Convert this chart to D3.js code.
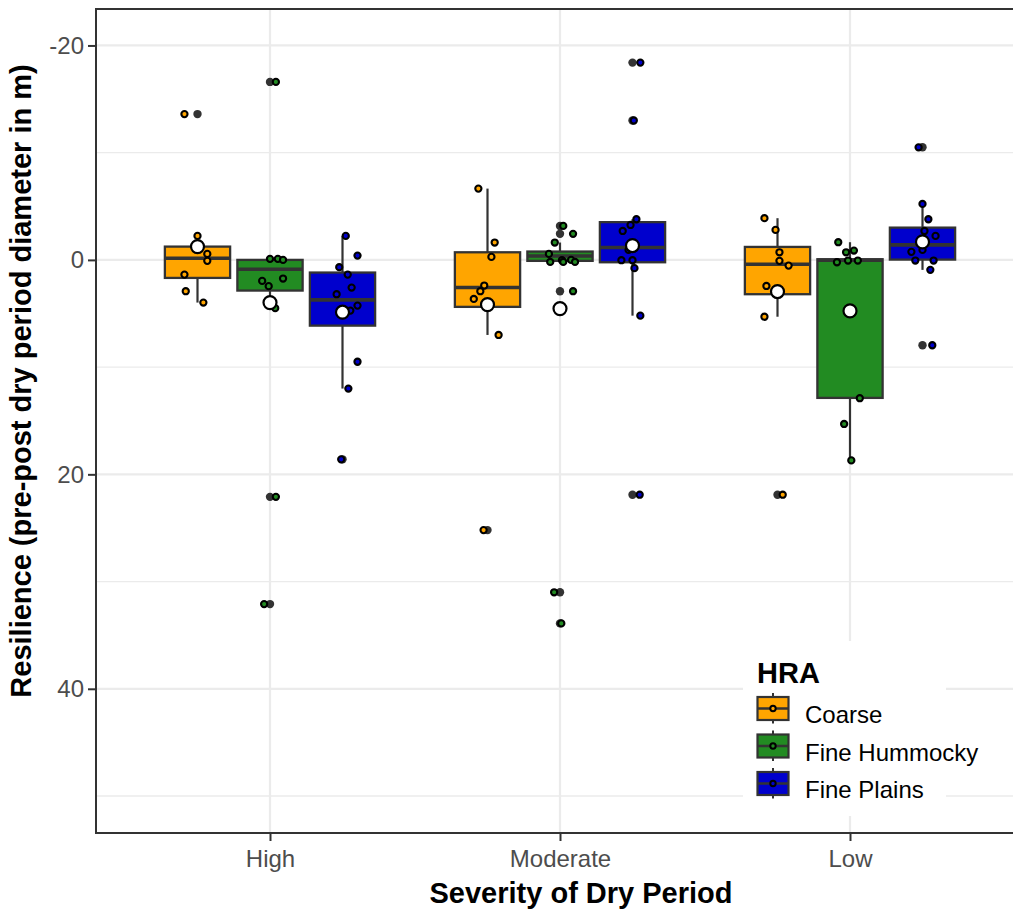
<!DOCTYPE html>
<html>
<head>
<meta charset="utf-8">
<script src="https://cdn.jsdelivr.net/npm/d3@7"></script>
<style>
  body { margin: 0; background: #ffffff; }
  svg { display: block; font-family: "Liberation Sans", Arial, sans-serif; }
</style>
</head>
<body>
<script>
// Severity classes on the x axis and hydrologic response areas (HRA) as dodged groups
const categories = ["High", "Moderate", "Low"];
const hraGroups = ["Coarse", "Fine Hummocky", "Fine Plains"];
const hraColors = ["#FFA500", "#228B22", "#0000CD"];
const yTicks = [-20, 0, 20, 40];
const yMinorTicks = [-10, 10, 30, 50];

// Observed resilience values, one inner array per severity class (High, Moderate, Low)
const coarseValues = [
  [-13.6, -2.24, -0.56, 0.09, 1.37, 2.92, 3.98],
  [-6.65, -1.62, -0.28, 2.39, 2.92, 3.64, 7.0, 25.2],
  [-3.89, -2.8, -0.71, 0.09, 0.53, 2.43, 5.3, 21.9]
];
const hummockyValues = [
  [-16.6, -0.1, -0.1, 0.0, 1.74, 1.96, 2.45, 4.5, 22.1, 32.1],
  [-3.17, -2.43, -1.62, -0.56, 0.19, 0.03, 0.19, 0.0, 0.19, 2.92, 31.0, 33.9],
  [-1.65, -0.71, -0.87, 0.22, 0.06, 0.06, 12.9, 15.3, 18.7]
];
const plainsValues = [
  [-2.24, -0.4, 0.68, 1.37, 2.58, 3.2, 4.26, 4.73, 9.5, 12.0, 18.6],
  [-18.4, -13.0, -3.79, -3.26, -2.7, -0.93, 0.03, 0.03, 0.77, 5.2, 21.9],
  [-10.5, -5.22, -3.79, -2.7, -2.24, -0.93, -0.75, 0.06, 0.06, 0.93, 7.96]
];

// Horizontal jitter of each observation, as a fraction of the box width
const coarseJitter = [
  [-0.2, 0, 0.15, 0.15, -0.2, -0.18, 0.09],
  [-0.14, 0.11, 0.06, -0.05, -0.11, -0.21, 0.17, -0.06],
  [-0.2, -0.03, 0.03, 0.03, 0.17, -0.17, -0.2, 0.08]
];
const hummockyJitter = [
  [0.09, 0, 0.12, 0.2, 0.2, -0.12, -0.02, 0.08, 0.09, -0.09],
  [0.05, 0.2, -0.08, -0.17, -0.15, 0.03, 0.05, 0.17, 0.23, 0.2, -0.09, 0.02],
  [-0.18, -0.06, 0.06, -0.2, -0.03, 0.12, 0.15, -0.09, 0.02]
];
const plainsJitter = [
  [0.05, 0.23, -0.05, 0.08, 0.14, -0.09, 0.23, 0.12, 0.23, 0.09, -0.02],
  [0.12, 0.02, 0.06, -0.03, -0.15, -0.06, -0.17, 0, 0.03, 0.12, 0.11],
  [-0.06, 0, 0.09, 0.03, 0.2, 0, -0.17, -0.11, 0.17, 0.12, 0.15]
];

// Box summaries per severity class: [lower whisker, Q1, median, Q3, upper whisker, mean]
const coarseBoxes = [
  [-2.24, -1.24, -0.15, 1.68, 3.98, -1.24],
  [-6.65, -0.71, 2.58, 4.38, 7.0, 4.17],
  [-3.89, -1.21, 0.4, 3.2, 5.3, 2.95]
];
const hummockyBoxes = [
  [-0.1, 0.0, 0.87, 2.86, 4.5, 3.98],
  [-1.62, -0.78, -0.37, 0.09, 0.19, 4.54],
  [-1.65, -0.06, 0.03, 12.87, 18.7, 4.76]
];
const plainsBoxes = [
  [-2.24, 1.18, 3.73, 6.13, 12.0, 4.88],
  [-3.79, -3.52, -1.15, 0.22, 5.2, -1.34],
  [-5.22, -3.01, -1.4, -0.03, 0.93, -1.68]
];

const groupValues = [coarseValues, hummockyValues, plainsValues];
const groupJitter = [coarseJitter, hummockyJitter, plainsJitter];
const groupBoxes = [coarseBoxes, hummockyBoxes, plainsBoxes];

const W = 1013, H = 914;
const panel = { left: 96, top: 9, right: 1024, bottom: 833 };
const ink = "#333333";

const svg = d3.select("body").append("svg").attr("width", W).attr("height", H);

const y = d3.scaleLinear().domain([-23.4, 53.45]).range([panel.top, panel.bottom]);
const x = d3.scalePoint().domain(categories).range([panel.left, panel.right]).padding(0.6);
const dodge = d3.scaleBand().domain(hraGroups).range([-0.375 * x.step(), 0.375 * x.step()]);
const boxW = dodge.bandwidth() * 0.9;
const color = d3.scaleOrdinal().domain(hraGroups).range(hraColors);

// Panel background and grid
svg.append("rect").attr("x", panel.left).attr("y", panel.top)
  .attr("width", panel.right - panel.left).attr("height", panel.bottom - panel.top)
  .attr("fill", "#ffffff");

const grid = svg.append("g");
grid.selectAll("line.minor").data(yMinorTicks).join("line")
  .attr("x1", panel.left).attr("x2", panel.right)
  .attr("y1", d => y(d)).attr("y2", d => y(d))
  .attr("stroke", "#ebebeb").attr("stroke-width", 1.3);
grid.selectAll("line.major").data(yTicks).join("line")
  .attr("x1", panel.left).attr("x2", panel.right)
  .attr("y1", d => y(d)).attr("y2", d => y(d))
  .attr("stroke", "#ebebeb").attr("stroke-width", 2.2);
grid.selectAll("line.vert").data(categories).join("line")
  .attr("x1", d => x(d)).attr("x2", d => x(d))
  .attr("y1", panel.top).attr("y2", panel.bottom)
  .attr("stroke", "#ebebeb").attr("stroke-width", 2.2);

// Legend background sits on the panel and hides the grid beneath it
svg.append("rect").attr("x", 743).attr("y", 641).attr("width", 203).attr("height", 175)
  .attr("fill", "#ffffff");

// Boxplots with whiskers and outliers
const marks = svg.append("g");
hraGroups.forEach((g, gi) => {
  categories.forEach((c, ci) => {
    const cx = x(c) + dodge(g) + dodge.bandwidth() / 2;
    const [lo, q1, med, q3, hi] = groupBoxes[gi][ci];
    const b = marks.append("g");
    b.append("line").attr("x1", cx).attr("x2", cx).attr("y1", y(lo)).attr("y2", y(q1))
      .attr("stroke", ink).attr("stroke-width", 2.2);
    b.append("line").attr("x1", cx).attr("x2", cx).attr("y1", y(q3)).attr("y2", y(hi))
      .attr("stroke", ink).attr("stroke-width", 2.2);
    b.append("rect").attr("x", cx - boxW / 2).attr("y", y(q1))
      .attr("width", boxW).attr("height", Math.max(1, y(q3) - y(q1)))
      .attr("fill", color(g)).attr("stroke", ink).attr("stroke-width", 2.3);
    b.append("line").attr("x1", cx - boxW / 2).attr("x2", cx + boxW / 2)
      .attr("y1", y(med)).attr("y2", y(med))
      .attr("stroke", ink).attr("stroke-width", 3.6);
    const outliers = groupValues[gi][ci].filter(v => v < lo - 0.005 || v > hi + 0.005);
    b.selectAll("circle").data(outliers).join("circle")
      .attr("cx", cx).attr("cy", d => y(d)).attr("r", 4.2)
      .attr("fill", ink);
  });
});

// Jittered observations
hraGroups.forEach((g, gi) => {
  categories.forEach((c, ci) => {
    const cx = x(c) + dodge(g) + dodge.bandwidth() / 2;
    const pts = groupValues[gi][ci].map((v, i) => ({ v, j: groupJitter[gi][ci][i] }));
    marks.append("g").selectAll("circle").data(pts).join("circle")
      .attr("cx", d => cx + d.j * boxW).attr("cy", d => y(d.v)).attr("r", 3.1)
      .attr("fill", color(g)).attr("stroke", "#000000").attr("stroke-width", 2.1);
  });
});

// Group means
hraGroups.forEach((g, gi) => {
  categories.forEach((c, ci) => {
    const cx = x(c) + dodge(g) + dodge.bandwidth() / 2;
    marks.append("circle").attr("cx", cx).attr("cy", y(groupBoxes[gi][ci][5])).attr("r", 6.5)
      .attr("fill", "#ffffff").attr("stroke", "#000000").attr("stroke-width", 2.2);
  });
});

// Panel border
svg.append("rect").attr("x", panel.left).attr("y", panel.top)
  .attr("width", panel.right - panel.left).attr("height", panel.bottom - panel.top)
  .attr("fill", "none").attr("stroke", ink).attr("stroke-width", 2);

// Axes
const yAxis = svg.append("g").attr("transform", `translate(${panel.left},0)`)
  .call(d3.axisLeft(y).tickValues(yTicks).tickSize(8).tickPadding(4).tickFormat(d => String(d)));
const xAxis = svg.append("g").attr("transform", `translate(0,${panel.bottom})`)
  .call(d3.axisBottom(x).tickSize(8).tickPadding(9));
[yAxis, xAxis].forEach(a => {
  a.select(".domain").remove();
  a.selectAll(".tick line").attr("stroke", ink).attr("stroke-width", 2);
  a.selectAll(".tick text").attr("fill", "#4d4d4d").style("font-size", "24px")
    .style("font-family", "'Liberation Sans', Arial, sans-serif");
});

// Axis titles
svg.append("text").attr("x", 581).attr("y", 903).attr("text-anchor", "middle")
  .style("font-size", "29px").style("font-weight", "bold").attr("fill", "#000000")
  .text("Severity of Dry Period");
svg.append("text").attr("transform", "translate(31,381) rotate(-90)").attr("text-anchor", "middle")
  .style("font-size", "29px").style("font-weight", "bold").attr("fill", "#000000")
  .text("Resilience (pre-post dry period diameter in m)");

// Legend
const legend = svg.append("g");
legend.append("text").attr("x", 757).attr("y", 683)
  .style("font-size", "29px").style("font-weight", "bold").attr("fill", "#000000").text("HRA");
hraGroups.forEach((g, i) => {
  const kx = 773, ky = 708.5 + i * 37.5;
  const k = legend.append("g");
  k.append("line").attr("x1", kx).attr("x2", kx).attr("y1", ky - 15.5).attr("y2", ky + 15)
    .attr("stroke", ink).attr("stroke-width", 2);
  k.append("rect").attr("x", kx - 15.5).attr("y", ky - 11.5).attr("width", 31).attr("height", 23)
    .attr("fill", color(g)).attr("stroke", ink).attr("stroke-width", 2.2);
  k.append("line").attr("x1", kx - 15.5).attr("x2", kx + 15.5).attr("y1", ky).attr("y2", ky)
    .attr("stroke", ink).attr("stroke-width", 2.5);
  k.append("circle").attr("cx", kx).attr("cy", ky).attr("r", 2.7)
    .attr("fill", color(g)).attr("stroke", "#000000").attr("stroke-width", 2);
  legend.append("text").attr("x", 805).attr("y", ky + 14.5)
    .style("font-size", "24px").attr("fill", "#000000").text(g);
});
</script>
</body>
</html>
